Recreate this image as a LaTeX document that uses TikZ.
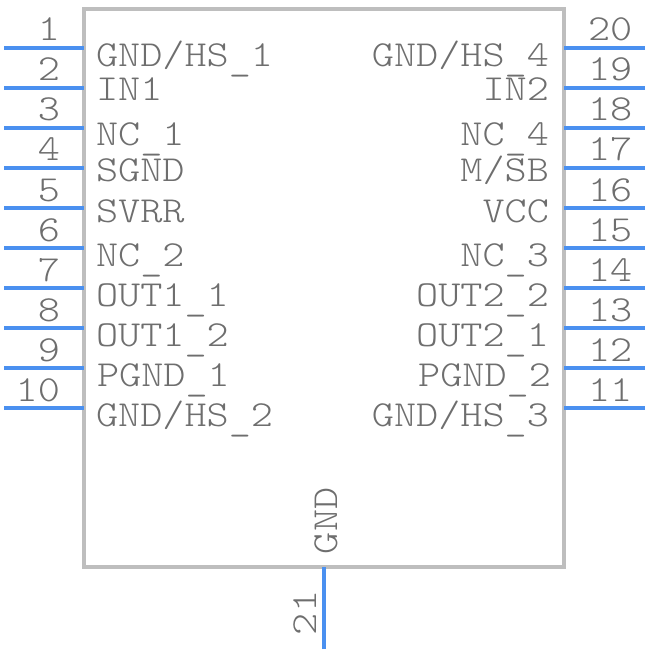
\documentclass[tikz,border=0pt]{standalone}
\usepackage{fontspec}
\usepackage{tikz}
\usetikzlibrary{positioning}
\newfontfamily\pinfont[FakeStretch=1.15]{Latin Modern Mono Light}
\definecolor{pinblue}{HTML}{4A90F0}
\definecolor{bodygrey}{HTML}{BEBEBE}
\definecolor{textgrey}{HTML}{6E6E6E}
% underscore sits lower than the one in the font
\newcommand{\lowbar}{\raisebox{-3pt}{\_}}
\tikzset{
  pinline/.style={draw=pinblue,line width=2.6pt},
  chipbody/.style={draw=bodygrey,line width=2.3pt,inner sep=0pt,outer sep=0pt,
    minimum width=360pt,minimum height=418.5pt,anchor=north west},
  txt/.style={font=\pinfont\fontsize{27.5}{30}\selectfont,text=textgrey,inner sep=0pt,outer sep=0pt},
  leftlabel/.style={txt,anchor=base west},
  rightlabel/.style={txt,anchor=base east},
  leftnum/.style={txt,anchor=base east},
  rightnum/.style={txt,anchor=base west},
  uplabel/.style={txt,anchor=base west,rotate=90}
}
\begin{document}
\begin{tikzpicture}[%
x=0.75pt,y=-0.75pt
]
\useasboundingbox (0,0) rectangle (648,652);

\coordinate (p1) at (4,48);
\coordinate (p2) at (4,88);
\coordinate (p3) at (4,128);
\coordinate (p4) at (4,168);
\coordinate (p5) at (4,208);
\coordinate (p6) at (4,248);
\coordinate (p7) at (4,288);
\coordinate (p8) at (4,328);
\coordinate (p9) at (4,368);
\coordinate (p10) at (4,408);

\coordinate (p20) at (645,48);
\coordinate (p19) at (645,88);
\coordinate (p18) at (645,128);
\coordinate (p17) at (645,168);
\coordinate (p16) at (645,208);
\coordinate (p15) at (645,248);
\coordinate (p14) at (645,288);
\coordinate (p13) at (645,328);
\coordinate (p12) at (645,368);
\coordinate (p11) at (645,408);

\coordinate (p21) at (324,649);

\node[chipbody] (body) at (84,9) {};

% left pins
\path (p1) edge [pinline] (p1 -| body.west);
\path (p2) edge [pinline] (p2 -| body.west);
\path (p3) edge [pinline] (p3 -| body.west);
\path (p4) edge [pinline] (p4 -| body.west);
\path (p5) edge [pinline] (p5 -| body.west);
\path (p6) edge [pinline] (p6 -| body.west);
\path (p7) edge [pinline] (p7 -| body.west);
\path (p8) edge [pinline] (p8 -| body.west);
\path (p9) edge [pinline] (p9 -| body.west);
\path (p10) edge [pinline] (p10 -| body.west);

% right pins
\path (p20) edge [pinline] (p20 -| body.east);
\path (p19) edge [pinline] (p19 -| body.east);
\path (p18) edge [pinline] (p18 -| body.east);
\path (p17) edge [pinline] (p17 -| body.east);
\path (p16) edge [pinline] (p16 -| body.east);
\path (p15) edge [pinline] (p15 -| body.east);
\path (p14) edge [pinline] (p14 -| body.east);
\path (p13) edge [pinline] (p13 -| body.east);
\path (p12) edge [pinline] (p12 -| body.east);
\path (p11) edge [pinline] (p11 -| body.east);

% bottom pin
\path (p21) edge [pinline] (p21 |- body.south);

% pin numbers
\node[leftnum] (n1) at (60,41) {1};
\node[leftnum] (n2) at (60,81) {2};
\node[leftnum] (n3) at (60,121) {3};
\node[leftnum] (n4) at (60,161) {4};
\node[leftnum] (n5) at (60,201) {5};
\node[leftnum] (n6) at (60,241) {6};
\node[leftnum] (n7) at (60,281) {7};
\node[leftnum] (n8) at (60,321) {8};
\node[leftnum] (n9) at (60,361) {9};
\node[leftnum] (n10) at (60,401) {10};

\node[rightnum] (n20) at (588,41) {20};
\node[rightnum] (n19) at (588,81) {19};
\node[rightnum] (n18) at (588,121) {18};
\node[rightnum] (n17) at (588,161) {17};
\node[rightnum] (n16) at (588,201) {16};
\node[rightnum] (n15) at (588,241) {15};
\node[rightnum] (n14) at (588,281) {14};
\node[rightnum] (n13) at (588,321) {13};
\node[rightnum] (n12) at (588,361) {12};
\node[rightnum] (n11) at (588,401) {11};

\node[uplabel] (n21) at (316,635) {21};

% signal names
\node[leftlabel] (t1) at (96,67) {GND/HS\lowbar 1};
\node[leftlabel] (t2) at (96,101) {IN1};
\node[leftlabel] (t3) at (96,146) {NC\lowbar 1};
\node[leftlabel] (t4) at (96,182) {SGND};
\node[leftlabel] (t5) at (96,222) {SVRR};
\node[leftlabel] (t6) at (96,266) {NC\lowbar 2};
\node[leftlabel] (t7) at (96,306) {OUT1\lowbar 1};
\node[leftlabel] (t8) at (96,346) {OUT1\lowbar 2};
\node[leftlabel] (t9) at (97,386) {PGND\lowbar 1};
\node[leftlabel] (t10) at (96,426) {GND/HS\lowbar 2};

\node[rightlabel] (t20) at (549,67) {GND/HS\lowbar 4};
\node[rightlabel] (t19) at (549,101) {IN2};
\node[rightlabel] (t18) at (549,146) {NC\lowbar 4};
\node[rightlabel] (t17) at (549,182) {M/SB};
\node[rightlabel] (t16) at (549,222) {VCC};
\node[rightlabel] (t15) at (549,266) {NC\lowbar 3};
\node[rightlabel] (t14) at (549,306) {OUT2\lowbar 2};
\node[rightlabel] (t13) at (549,346) {OUT2\lowbar 1};
\node[rightlabel] (t12) at (551,386) {PGND\lowbar 2};
\node[rightlabel] (t11) at (549,426) {GND/HS\lowbar 3};

\node[uplabel] (t21) at (337,554) {GND};
\end{tikzpicture}
\end{document}
